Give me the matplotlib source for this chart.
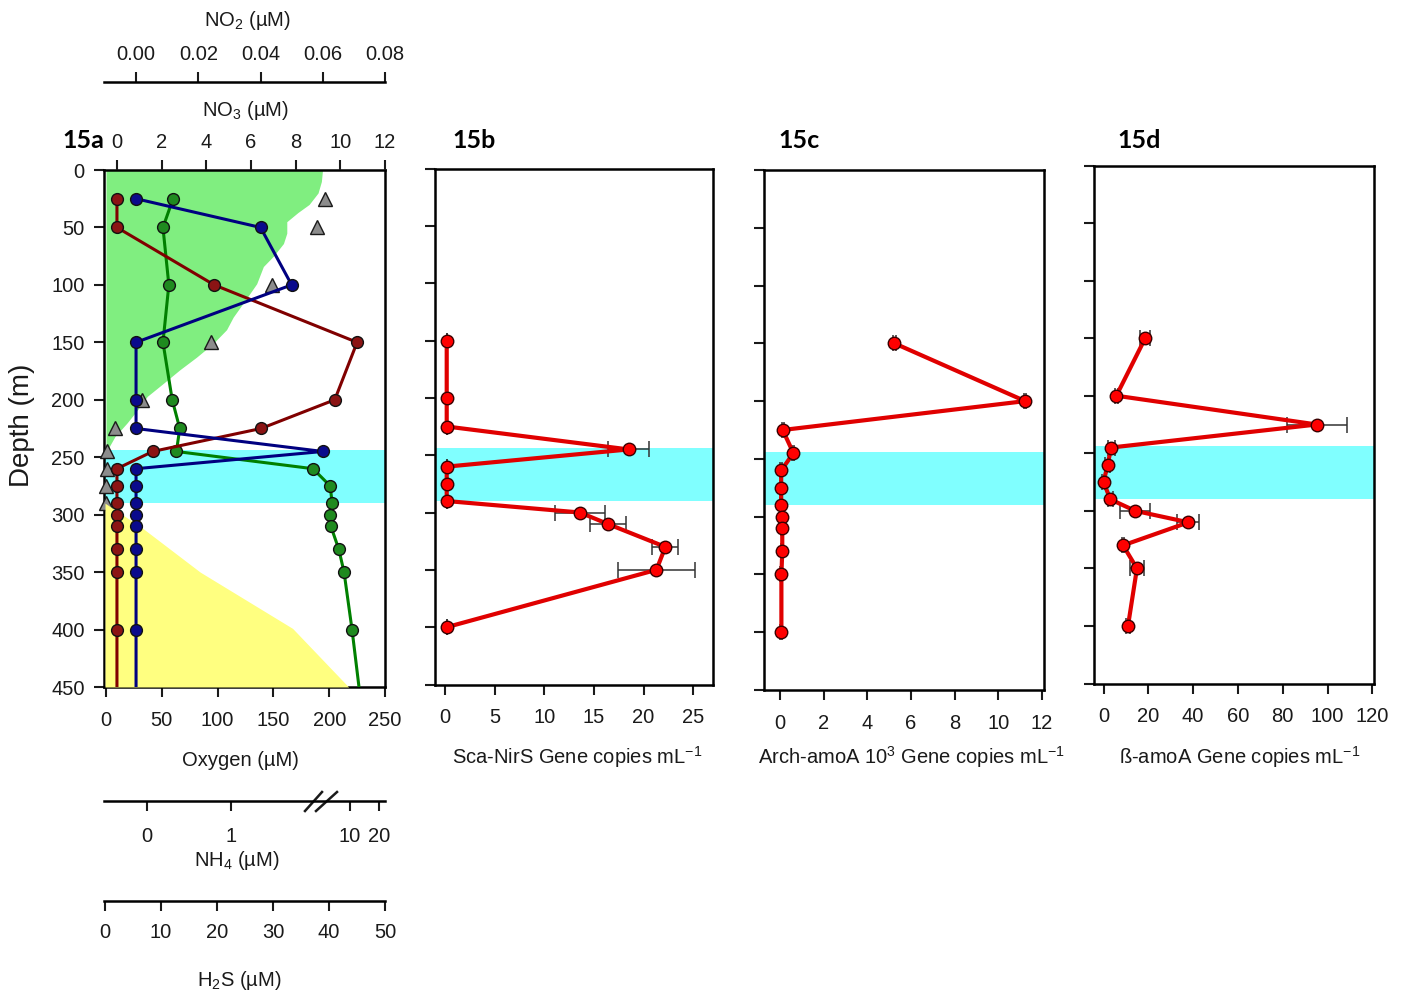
import numpy as np
import matplotlib
matplotlib.use("Agg")
import matplotlib.pyplot as plt

plt.rcParams['font.family'] = ['Liberation Sans', 'DejaVu Sans']
plt.rcParams['mathtext.fontset'] = 'custom'
plt.rcParams['mathtext.rm'] = 'Liberation Sans'
plt.rcParams['mathtext.it'] = 'Liberation Sans:italic'
plt.rcParams['mathtext.bf'] = 'Liberation Sans:bold'
plt.rcParams['mathtext.default'] = 'regular'

# ---------------- data ----------------
# Panel 15a: discrete samples (last depth = line end, no marker)
depth_a = [25, 50, 100, 150, 200, 225, 245, 260, 275, 290, 300, 310, 330, 350, 400, 450]
no3_a = [0.0, 0.0, 4.35, 10.75, 9.75, 6.45, 1.6, 0.0, 0.0, 0.0, 0.0, 0.0, 0.0, 0.0, 0.0, 0.0]
no2_a = [0.0, 0.040, 0.050, 0.0, 0.0, 0.0, 0.060, 0.0, 0.0, 0.0, 0.0, 0.0, 0.0, 0.0, 0.0, 0.0]
nh4_a = [0.31, 0.19, 0.26, 0.19, 0.30, 0.39, 0.35, 7.2, 8.5, 8.65, 8.5, 8.55, 9.15, 9.55, 10.7, 13.1]

o2_tri_depth = [25, 50, 100, 150, 200, 225, 245, 260, 275, 290]
o2_tri = [196, 189, 149, 94, 32, 8, 1, 1, 0, 0]

o2_prof_depth = [0, 10, 20, 30, 37, 45, 55, 64, 75, 84, 99, 113, 128, 139, 151, 163, 174,
                 186, 197, 209, 220, 232, 244, 252, 256]
o2_prof = [194, 193, 190, 182, 172, 162, 162, 159, 150, 141, 135, 125, 114, 108, 96, 81, 66,
           51, 37, 28, 19, 8, 1, 0.5, 0]

h2s_depth = [290, 311, 350, 399, 450]
h2s = [0, 6.5, 17, 33.5, 43.5]

suboxic_top, suboxic_bottom = 244, 290

# Panels 15b-d
gene_depth = [150, 200, 225, 245, 260, 275, 290, 300, 310, 330, 350, 400]
nirs = [0.17, 0.17, 0.17, 18.5, 0.17, 0.17, 0.17, 13.6, 16.4, 22.2, 21.3, 0.17]
nirs_err = [0, 0, 0, 2.1, 0, 0, 0, 2.5, 1.8, 1.3, 3.85, 0]
arch = [5.24, 11.23, 0.12, 0.61, 0.05, 0.05, 0.05, 0.1, 0.1, 0.1, 0.06, 0.06]
arch_err = [0.05] * 12
beta = [18.6, 5.7, 95.2, 3.4, 1.8, 0.0, 3.0, 14.1, 37.9, 8.7, 14.9, 10.9]
beta_err = [2.2, 0.8, 13.4, 1.5, 1.0, 0.5, 1.0, 6.7, 4.9, 0.5, 3.3, 1.0]

depth_ticks = list(range(0, 451, 50))

# ---------------- styling helpers ----------------
W, H = 1403, 996
fig = plt.figure(figsize=(W / 100, H / 100), dpi=100)


def rect(l, r, t, b):
    return [l / W, 1 - b / H, (r - l) / W, (b - t) / H]


def ftext(x, y, s, **kw):
    kw.setdefault('ha', 'center')
    kw.setdefault('va', 'center')
    kw.setdefault('fontsize', 14.5)
    kw.setdefault('color', '#1a1a1a')
    fig.text(x / W, 1 - y / H, s, **kw)


SPW = 1.8
TK = dict(direction='out', length=7, width=1.5, labelsize=14.5, colors='#1a1a1a')
CYAN = '#80FFFF'

# ================= Panel 15a =================
ax = fig.add_axes(rect(104, 385, 170, 687))
ax.set_ylim(450, 0)
ax.set_xlim(-1.8, 250)
for s in ax.spines.values():
    s.set_linewidth(SPW)
ax.set_yticks(depth_ticks)
ax.set_xticks([0, 50, 100, 150, 200, 250])
ax.tick_params(axis='y', pad=7, **TK)
ax.tick_params(axis='x', pad=10, **TK)
ax.fill_betweenx(o2_prof_depth, 0, o2_prof, color='#80EE80', lw=0, zorder=1)
ax.axhspan(suboxic_top, suboxic_bottom, color=CYAN, lw=0, zorder=1.5)
ax.plot(o2_tri, o2_tri_depth, '^', ms=10, mfc='#8c8c8c', mec='#1a1a1a', mew=1,
        ls='none', zorder=3, clip_on=False)

# H2S axis (far bottom)
ax_h2s = ax.twiny()
ax_h2s.set_xlim(-0.18, 50)
ax_h2s.xaxis.tick_bottom()
for k, s in ax_h2s.spines.items():
    s.set_visible(k == 'bottom')
ax_h2s.spines['bottom'].set_position(('axes', -214 / 517))
ax_h2s.spines['bottom'].set_linewidth(SPW)
ax_h2s.set_xticks([0, 10, 20, 30, 40, 50])
ax_h2s.tick_params(axis='x', pad=9, **TK)
ax_h2s.fill_betweenx(h2s_depth, 0, h2s, color='#FFFF80', lw=0, zorder=1)

# NH4 axis (broken scale)
nh4_knots = np.array([-10.0, 0.0, 1.0, 10.0, 100.0])
nh4_lin = np.array([-10.0, 0.0, 1.0, 1 + 119 / 84, 1 + 119 / 84 + 90 * 2.9 / 84])


def nh4_fwd(v):
    return np.interp(v, nh4_knots, nh4_lin)


def nh4_inv(u):
    return np.interp(u, nh4_lin, nh4_knots)


ax_nh4 = ax.twiny()
ax_nh4.set_xscale('function', functions=(nh4_fwd, nh4_inv))
ax_nh4.set_xlim(-0.512, 22.07)
ax_nh4.xaxis.tick_bottom()
for k, s in ax_nh4.spines.items():
    s.set_visible(k == 'bottom')
ax_nh4.spines['bottom'].set_position(('axes', -114 / 517))
ax_nh4.spines['bottom'].set_linewidth(SPW)
ax_nh4.set_xticks([0, 1, 10, 20])
ax_nh4.set_xticklabels(['0', '1', '10', '20'])
ax_nh4.xaxis.set_minor_locator(matplotlib.ticker.NullLocator())
ax_nh4.tick_params(axis='x', pad=12, **TK)
ax_nh4.plot(nh4_a, depth_a, '-o', color='#008000', lw=2.2, ms=8.5, mfc='#1f8a1f',
            mec='#111111', mew=1, markevery=slice(0, len(depth_a) - 1), zorder=3)
for x0, x1 in [(305, 322), (316, 337)]:
    ax.plot([(x0 - 104) / 281, (x1 - 104) / 281], [(687 - 811) / 517, (687 - 792) / 517],
            color='#1a1a1a', lw=1.8, transform=ax.transAxes, clip_on=False)

# NO3 axis (top spine)
ax_no3 = ax.twiny()
ax_no3.set_xlim(-0.58, 12)
for k, s in ax_no3.spines.items():
    s.set_visible(False)
ax_no3.set_xticks([0, 2, 4, 6, 8, 10, 12])
ax_no3.tick_params(axis='x', pad=6, **TK)
ax_no3.plot(no3_a, depth_a, '-o', color='#800000', lw=2.2, ms=8.5, mfc='#8b1414',
            mec='#111111', mew=1, markevery=slice(0, len(depth_a) - 1), zorder=3)

# NO2 axis (floating above)
ax_no2 = ax.twiny()
ax_no2.set_xlim(-0.0103, 0.08)
for k, s in ax_no2.spines.items():
    s.set_visible(k == 'top')
ax_no2.spines['top'].set_position(('axes', 1 + 88 / 517))
ax_no2.spines['top'].set_linewidth(SPW)
ax_no2.set_xticks([0.0, 0.02, 0.04, 0.06, 0.08])
ax_no2.set_xticklabels(['0.00', '0.02', '0.04', '0.06', '0.08'])
ax_no2.tick_params(axis='x', pad=6, **TK)
ax_no2.plot(no2_a, depth_a, '-o', color='#000080', lw=2.2, ms=8.5, mfc='#0a0a8c',
            mec='#111111', mew=1, markevery=slice(0, len(depth_a) - 1), zorder=3)

# ================= Panels 15b-d =================
panels = [
    (rect(435, 713, 168.5, 684.5), (-1.01, 27.0), [0, 5, 10, 15, 20, 25], nirs, nirs_err),
    (rect(763.5, 1043.5, 170, 690), (-0.76, 12.07), [0, 2, 4, 6, 8, 10, 12], arch, arch_err),
    (rect(1093.5, 1374, 165.5, 683.5), (-4.5, 120.75), [0, 20, 40, 60, 80, 100, 120], beta, beta_err),
]
for r, xl, xt, vals, errs in panels:
    a = fig.add_axes(r)
    a.set_ylim(450, 0)
    a.set_xlim(*xl)
    for s in a.spines.values():
        s.set_linewidth(SPW)
    a.set_yticks(depth_ticks)
    a.set_xticks(xt)
    a.tick_params(axis='y', labelleft=False, **TK)
    a.tick_params(axis='x', pad=10, **TK)
    a.axhspan(suboxic_top, suboxic_bottom, color=CYAN, lw=0, zorder=1)
    a.errorbar(vals, gene_depth, xerr=errs, fmt='none', ecolor='#333333', elinewidth=1.1,
               capsize=5.5, capthick=1.1, zorder=2)
    a.plot(vals, gene_depth, '-o', color='#E00000', lw=3, ms=9, mfc='#FF0000',
           mec='#3a0000', mew=1, zorder=3)

# ================= Texts =================
ftext(247, 20, 'NO$_2$ (µM)')
ftext(245, 110, 'NO$_3$ (µM)')
ftext(240, 760, 'Oxygen (µM)')
ftext(237, 860, 'NH$_4$ (µM)')
ftext(239, 980, 'H$_2$S (µM)')
ftext(22, 425, 'Depth (m)', rotation=90, fontsize=20)
for x, s in [(62, '15a'), (452, '15b'), (778, '15c'), (1117, '15d')]:
    ftext(x, 140, s, ha='left', fontsize=18, fontweight='bold', family=['Lato', 'DejaVu Sans'],
          color='black')
ftext(577, 757, 'Sca-NirS Gene copies mL$^{-1}$')
ftext(912, 757, 'Arch-amoA 10$^{3}$ Gene copies mL$^{-1}$')
ftext(1240, 757, 'ß-amoA Gene copies mL$^{-1}$')

fig.savefig('out.png', dpi=100)
